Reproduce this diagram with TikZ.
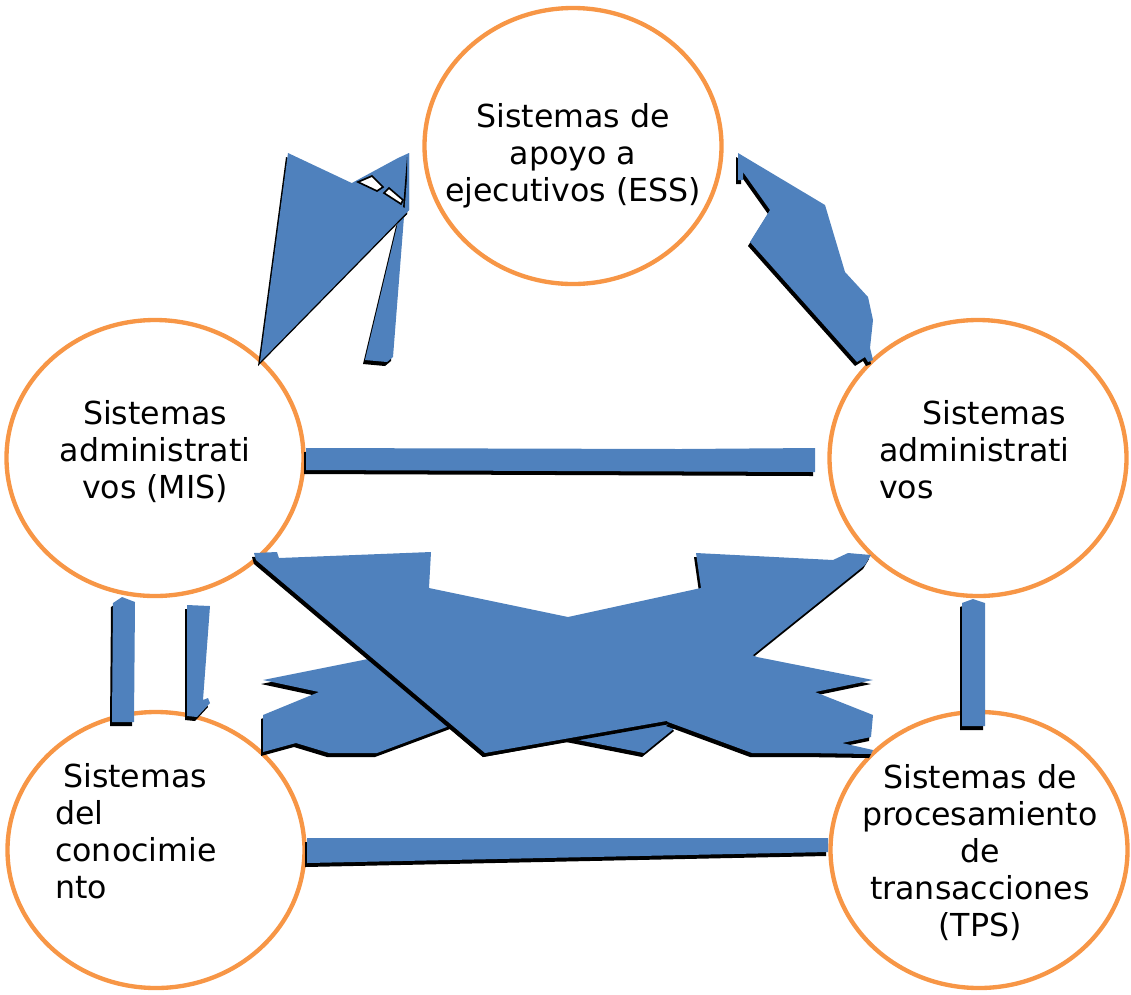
\documentclass[tikz,border=0pt]{standalone}
\usepackage{fontspec}
\setmainfont{DejaVu Sans}
\usetikzlibrary{shapes.geometric}
\definecolor{sysorange}{HTML}{F79646}
\definecolor{flowblue}{HTML}{4F81BD}

\begin{document}
\begin{tikzpicture}[
    x=0.03cm, y=-0.03cm,
    system/.style={ellipse, draw=sysorange, line width=0.13cm, fill=white, minimum width=8.91cm, minimum height=8.28cm, inner sep=0pt},
    systext/.style={font=\fontsize{27}{31.6}\selectfont, inner sep=0pt},
    flowshadow/.style={fill=black, transform canvas={xshift=-0.06cm, yshift=-0.12cm}},
    flowflat/.style={fill=flowblue},
    flow/.style={fill=flowblue, preaction={flowshadow}},
    hole/.style={fill=white, draw=black, line width=0.05cm},
]
\useasboundingbox (0,0) rectangle (1131,994);

% Systems
\node[system] (ess) at (573,146) {};
\node[system] (mis) at (155,458) {};
\node[system] (adm) at (978,458) {};
\node[system] (kws) at (156,850) {};
\node[system] (tps) at (979,850) {};

% ESS <-> MIS
\fill[flow] (350,184) -- (398,158) -- (409,153) -- (409,210) -- cycle;
\fill[flow] (365,360) -- (398,222) -- (409,210) -- (409,153) -- (393,357) -- (387,362) -- cycle;
\fill[flow] (288,153) -- (409,210) -- (260,362) -- cycle;
\filldraw[hole] (358,182) -- (372,176) -- (383,187) -- (377,191) -- cycle;
\filldraw[hole] (384,193) -- (389,188) -- (403,200) -- (401,204) -- cycle;

% ESS <-> administrativos
\fill[flow] (738,153) -- (825,205) -- (845,272) -- (868,297) -- (873,320) -- (870,348)
    -- (873,360) -- (868,362) -- (865,357) -- (857,362) -- (750,242) -- (770,210)
    -- (743,172) -- (743,180) -- (738,180) -- cycle;

% MIS <-> administrativos
\fill[flow] (306,448) -- (680,449) -- (815,448) -- (815,472) -- (306,470) -- cycle;

% Crossing links: lower band (left part)
\fill[flow] (263,680) -- (373,658) -- (600,640) -- (676,727) -- (644,753) -- (568,738)
    -- (485,753) -- (452,725) -- (377,753) -- (329,753) -- (296,743) -- (263,752)
    -- (263,715) -- (319,692) -- cycle;
% lower band (right part), shadow only
\fill[flowshadow] (757,657) -- (873,680) -- (815,692) -- (873,715) -- (871,737) -- (842,743)
    -- (873,750) -- (871,754) -- (806,753) -- (752,753) -- (668,722) -- cycle;
% the cross
\fill[flow] (254,553) -- (277,552) -- (279,558) -- (431,552) -- (429,588) -- (568,617)
    -- (701,588) -- (696,553) -- (833,560) -- (848,553) -- (871,555) -- (865,565)
    -- (672,720) -- (485,753) -- (256,560) -- cycle;
% lower band (right part)
\fill[flowflat] (757,657) -- (873,680) -- (815,692) -- (873,715) -- (871,737) -- (842,743)
    -- (873,750) -- (871,754) -- (806,753) -- (752,753) -- (668,722) -- (660,715)
    -- (740,650) -- cycle;

% MIS <-> conocimiento
\fill[flow] (113,603) -- (122,597) -- (135,602) -- (134,722) -- (112,722) -- cycle;
\fill[flow] (187,605) -- (210,606) -- (203,700) -- (208,698) -- (210,703) -- (197,717) -- (187,716) -- cycle;

% administrativos <-> TPS
\fill[flow] (962,603) -- (973,599) -- (985,603) -- (985,726) -- (962,726) -- cycle;

% conocimiento <-> TPS
\fill[flow] (307,838) -- (828,838) -- (828,852) -- (307,863) -- cycle;

% Labels
\node[systext, align=center] (esstext) at (573,156) {Sistemas de\\apoyo a\\ejecutivos (ESS)};
\node[systext, align=center] (mistext) at (155,452) {Sistemas\\administrati\\vos (MIS)};
\node[systext, align=left, anchor=west] (admtext) at (879,450) {\hspace*{1.36em}Sistemas\\administrati\\vos};
\node[systext, align=left, anchor=west] (kwstext) at (55,831) {\hspace*{0.25em}Sistemas\\del\\conocimie\\nto};
\node[systext, align=center] (tpstext) at (980,853) {Sistemas de\\procesamiento\\de\\transacciones\\(TPS)};

\end{tikzpicture}
\end{document}
